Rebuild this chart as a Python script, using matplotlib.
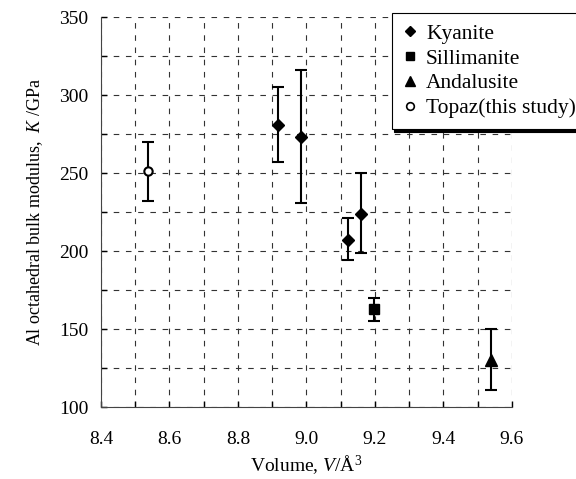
import matplotlib
matplotlib.use("Agg")
import matplotlib.pyplot as plt
from matplotlib.lines import Line2D
import numpy as np

plt.rcParams['font.family'] = ['Liberation Serif', 'DejaVu Serif']
plt.rcParams['mathtext.fontset'] = 'custom'
plt.rcParams['mathtext.rm'] = 'Liberation Serif'
plt.rcParams['mathtext.it'] = 'Liberation Serif:italic'

# Data
kyanite_v = [8.918, 8.983, 9.122, 9.159]
kyanite_k = [281, 273, 207, 224]
kyanite_lo = [257, 231, 194, 199]
kyanite_hi = [305, 316, 221, 250]

sill_v = [9.197]
sill_k = [163]
sill_lo = [155]
sill_hi = [170]

anda_v = [9.538]
anda_k = [130]
anda_lo = [111]
anda_hi = [150]

topaz_v = [8.538]
topaz_k = [251]
topaz_lo = [232]
topaz_hi = [270]

fig = plt.figure(figsize=(5.76, 4.79), dpi=100)
ax = fig.add_axes([0.1753, 0.1503, 0.7135, 0.8142])

def err(k, lo, hi):
    k = np.array(k); return [k - np.array(lo), np.array(hi) - k]

ekw = dict(ecolor='black', elinewidth=1.5, capsize=4.5, capthick=1.5, linestyle='none', zorder=3)
ax.errorbar(kyanite_v, kyanite_k, yerr=err(kyanite_k, kyanite_lo, kyanite_hi),
            marker='D', markersize=6, mfc='black', mec='black', **ekw)
ax.errorbar(sill_v, sill_k, yerr=err(sill_k, sill_lo, sill_hi),
            marker='s', markersize=7, mfc='black', mec='black', **ekw)
ax.errorbar(anda_v, anda_k, yerr=err(anda_k, anda_lo, anda_hi),
            marker='^', markersize=8, mfc='black', mec='black', **ekw)
ax.errorbar(topaz_v, topaz_k, yerr=err(topaz_k, topaz_lo, topaz_hi),
            marker='o', markersize=6, mfc='white', mec='black', mew=1.5, **ekw)

ax.set_xlim(8.4, 9.6)
ax.set_ylim(100, 350)
ax.set_xticks(np.arange(8.4, 9.61, 0.2))
ax.set_xticks(np.arange(8.4, 9.61, 0.1), minor=True)
ax.set_yticks(np.arange(100, 351, 50))
ax.set_yticks(np.arange(100, 351, 25), minor=True)
ax.xaxis.set_major_formatter(matplotlib.ticker.FormatStrFormatter('%.1f'))
ax.tick_params(axis='both', which='both', direction='in', length=4, width=1, labelsize=14)
ax.tick_params(axis='x', which='major', pad=17)
ax.tick_params(axis='y', which='major', pad=9)
ax.grid(True, which='both', color='#333333', linestyle=(0, (5, 6)), linewidth=0.8)
ax.spines['top'].set_visible(False)
ax.spines['right'].set_visible(False)
ax.spines['left'].set_color('#444444')
ax.spines['bottom'].set_color('#444444')

ax.set_xlabel(r'Volume, $\mathit{V}$/Å$^3$', fontsize=14, labelpad=4)
ax.set_ylabel(r'Al octahedral bulk modulus,  $\mathit{K}$ /GPa', fontsize=13, labelpad=10)

handles = [
    Line2D([], [], marker='D', color='black', linestyle='none', markersize=5.5),
    Line2D([], [], marker='s', color='black', linestyle='none', markersize=6),
    Line2D([], [], marker='^', color='black', linestyle='none', markersize=6.5),
    Line2D([], [], marker='o', mfc='white', mec='black', mew=1.2, linestyle='none', markersize=5.5),
]
labels = ['Kyanite', 'Sillimanite', 'Andalusite', 'Topaz(this study)']
leg = fig.legend(handles, labels, loc='upper left', bbox_to_anchor=(0.68, 0.973),
                 bbox_transform=fig.transFigure, fontsize=15.5, frameon=True, fancybox=False,
                 edgecolor='black', framealpha=1, handlelength=0.7, handletextpad=0.4,
                 labelspacing=0.22, borderpad=0.5, borderaxespad=0,
                 shadow={'facecolor': 'black', 'edgecolor': 'black', 'alpha': 1})
leg.get_frame().set_linewidth(0.8)

fig.savefig('out.png', dpi=100)
